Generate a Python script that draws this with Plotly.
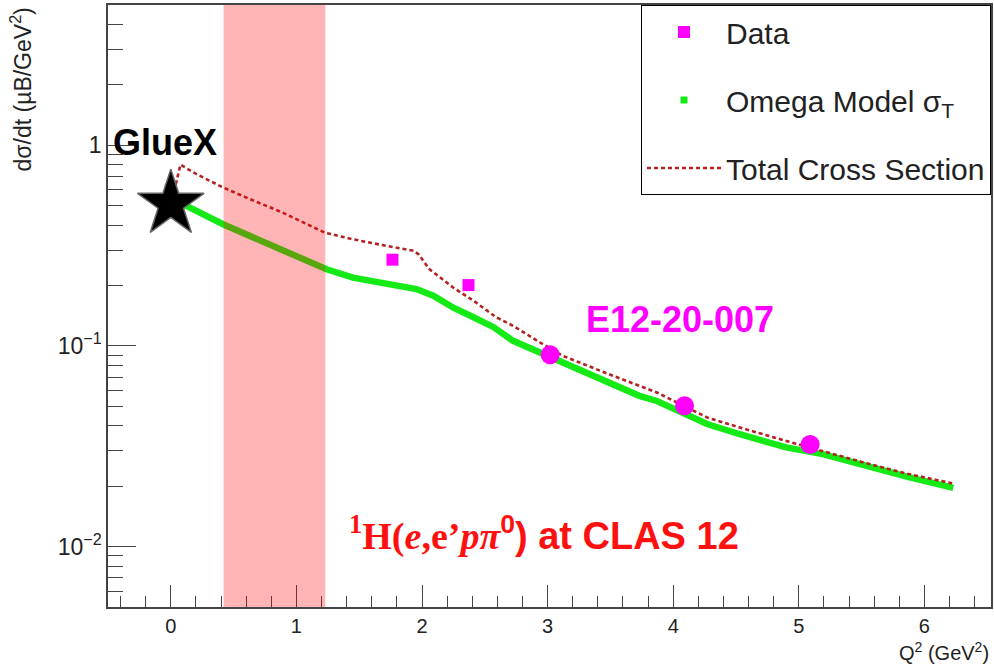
import plotly.graph_objects as go

# Omega model transverse cross section (green curve)
model_q2 = [0.10, 0.125, 0.416, 0.63, 0.895, 1.24, 1.45, 1.72, 1.955, 2.09, 2.25, 2.41,
            2.57, 2.725, 2.99, 3.26, 3.52, 3.73, 3.87, 4.27, 4.53, 4.90, 5.19, 5.54, 5.86, 6.23]
model_xs = [0.51, 0.499, 0.404, 0.354, 0.298, 0.241, 0.219, 0.203, 0.192, 0.178, 0.155, 0.139,
            0.124, 0.106, 0.0893, 0.0751, 0.0645, 0.0564, 0.0532, 0.0408, 0.0363, 0.0312,
            0.0289, 0.025, 0.0223, 0.0196]

# Total cross section (dotted red curve)
total_q2 = [0.04, 0.077, 0.205, 0.416, 0.63, 0.89, 1.226, 1.45, 1.72, 1.93, 1.97, 2.06, 2.25,
            2.41, 2.59, 2.725, 2.94, 3.12, 3.52, 3.87, 4.27, 4.53, 4.90, 5.19, 5.54, 5.86, 6.23]
total_xs = [0.64, 0.80, 0.718, 0.616, 0.539, 0.462, 0.367, 0.34, 0.315, 0.298, 0.287, 0.241,
            0.195, 0.168, 0.139, 0.126, 0.104, 0.0893, 0.071, 0.0586, 0.044, 0.0392, 0.0336,
            0.0298, 0.026, 0.0231, 0.0206]

# Measured points
data_q2 = [0.0, 1.765, 2.37]
data_xs = [0.60, 0.269, 0.201]

# GlueX photoproduction point
gluex_q2 = [0.0]
gluex_xs = [0.509]

# E12-20-007 projected points
proj_q2 = [3.02, 4.09, 5.09]
proj_xs = [0.0903, 0.0503, 0.0323]

# Q^2 region highlighted
band_q2 = [0.42, 1.23]

# Axis tick labels
x_ticks = [0, 1, 2, 3, 4, 5, 6]
y_ticks = [0.01, 0.1, 1]
y_ticklabels = ["10<sup>−2</sup>", "10<sup>−1</sup>", "1"]

GREEN = "#16ea16"
DARKRED = "#b22222"
MAGENTA = "#ff00ff"
FONT = "Liberation Sans, Arial, sans-serif"

fig = go.Figure()

fig.add_trace(go.Scatter(
    x=model_q2, y=model_xs, mode="lines",
    line=dict(color=GREEN, width=6.5), showlegend=False, hoverinfo="skip"))

fig.add_trace(go.Scatter(
    x=data_q2, y=data_xs, mode="markers",
    marker=dict(symbol="square", size=12, color=MAGENTA),
    name="Data", legendrank=1, legendgroup="a"))

fig.add_trace(go.Scatter(
    x=[None], y=[None], mode="markers",
    marker=dict(symbol="square", size=7, color=GREEN),
    name="Omega Model σ<sub>T</sub>", legendrank=2, legendgroup="b"))

fig.add_trace(go.Scatter(
    x=total_q2, y=total_xs, mode="lines",
    line=dict(color=DARKRED, width=2.6, dash="4px,3px"),
    name="Total Cross Section", legendrank=3, legendgroup="c"))

fig.add_trace(go.Scatter(
    x=gluex_q2, y=gluex_xs, mode="markers",
    marker=dict(symbol="star", size=50, color="black", line=dict(color="#666", width=1.5)),
    showlegend=False))

fig.add_trace(go.Scatter(
    x=proj_q2, y=proj_xs, mode="markers",
    marker=dict(symbol="circle", size=19, color=MAGENTA),
    showlegend=False))

fig.add_shape(type="rect", xref="x", yref="paper",
              x0=band_q2[0], x1=band_q2[1], y0=0, y1=1,
              fillcolor="rgba(255,0,0,0.29)", line=dict(width=0), layer="above")

minor_y = [k * 10.0 ** e for e in (-3, -2, -1, 0) for k in range(2, 10)]
minor_y = [v for v in minor_y if 0.005 <= v <= 5]

fig.update_xaxes(
    range=[-0.5, 6.53], showgrid=False, zeroline=False, automargin=False,
    showline=True, linecolor="#444", linewidth=1.5, mirror=True,
    ticks="inside", ticklen=22, tickcolor="#444", tickwidth=1.2,
    tickvals=x_ticks, ticktext=[str(v) for v in x_ticks],
    ticklabeloverflow="allow",
    minor=dict(ticks="inside", ticklen=11, tickcolor="#444", tickwidth=1.2,
               dtick=0.2, tick0=0, showgrid=False),
    tickfont=dict(family=FONT, size=20, color="#222"))

fig.update_yaxes(
    type="log", range=[-2.30103, 0.69897], showgrid=False, zeroline=False, automargin=False,
    showline=True, linecolor="#444", linewidth=1.5, mirror=True,
    ticks="inside", ticklen=28, tickcolor="#444", tickwidth=1.2,
    tickvals=y_ticks, ticktext=y_ticklabels,
    ticklabeloverflow="allow",
    minor=dict(ticks="inside", ticklen=15, tickcolor="#444", tickwidth=1.2,
               tickvals=minor_y, showgrid=False),
    tickfont=dict(family=FONT, size=23, color="#222"))

fig.add_annotation(text="dσ/dt (µB/GeV<sup>2</sup>)", textangle=-90,
                   xref="paper", yref="paper", x=-0.098, y=1.0,
                   xanchor="center", yanchor="top", showarrow=False,
                   font=dict(family=FONT, size=23, color="#222"))

fig.add_annotation(text="Q<sup>2</sup> (GeV<sup>2</sup>)",
                   xref="paper", yref="paper", x=1.0, y=-0.074,
                   xanchor="right", yanchor="middle", showarrow=False,
                   font=dict(family=FONT, size=20, color="#222"))

fig.add_annotation(text="<b>GlueX</b>", xref="paper", yref="paper",
                   x=0.0646, y=0.771, xanchor="center", yanchor="middle",
                   showarrow=False, font=dict(family=FONT, size=36, color="black"))

fig.add_annotation(text="<b>E12-20-007</b>", xref="paper", yref="paper",
                   x=0.648, y=0.477, xanchor="center", yanchor="middle",
                   showarrow=False, font=dict(family=FONT, size=36, color=MAGENTA))

serif = "font-family:'Liberation Serif','Times New Roman',serif"
reaction = (f"<span style=\"{serif}\"><b><sup>1</sup>H(<i>e</i>,e’<i>p</i><i>π</i></b></span>"
            "<b><sup>0</sup>) at CLAS 12</b>")
fig.add_annotation(text=reaction, xref="paper", yref="paper",
                   x=0.494, y=0.122, xanchor="center", yanchor="middle",
                   showarrow=False, font=dict(family=FONT, size=38, color="#ff1010"))

fig.update_layout(
    width=994, height=665,
    margin=dict(l=108, r=3, t=5, b=58),
    paper_bgcolor="white", plot_bgcolor="white",
    legend=dict(x=1.0, y=1.0, xanchor="right", yanchor="top",
                bgcolor="white", bordercolor="black", borderwidth=1,
                font=dict(family=FONT, size=30, color="#222"),
                itemwidth=74, tracegroupgap=26, traceorder="grouped"),
)

fig.write_html("out.html")
